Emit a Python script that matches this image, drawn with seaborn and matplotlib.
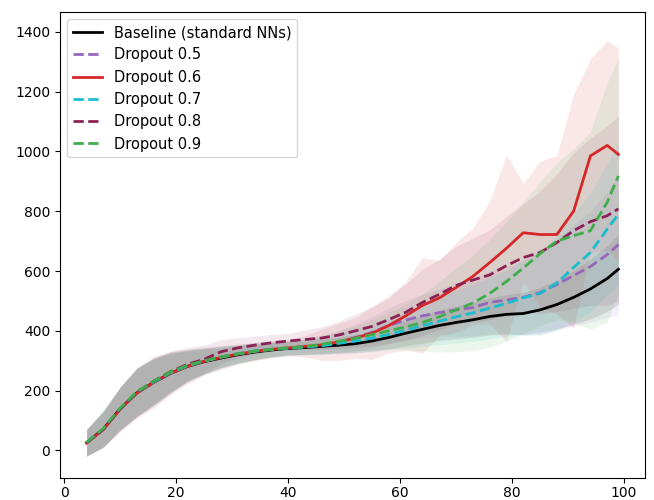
import numpy as np
import pandas as pd

import matplotlib
matplotlib.use('Agg')
import matplotlib.pyplot as plt
import seaborn as sns

# epochs
x = [4, 7, 10, 13, 16, 19, 22, 25, 28, 31, 34, 37, 40, 43, 46, 49, 52,
     55, 58, 61, 64, 67, 70, 73, 76, 79, 82, 85, 88, 91, 94, 97, 99]

# mean curves
baseline = [26, 72, 140, 193, 228, 258, 281, 297, 309, 320, 329, 336, 341, 344, 348, 352, 357,
            366, 378, 392, 405, 418, 428, 437, 448, 455, 458, 470, 488, 512, 540, 575, 606]
drop05 = [25, 71, 140, 195, 230, 262, 284, 300, 313, 324, 333, 339, 343, 347, 352, 362, 378,
          395, 418, 436, 450, 461, 470, 478, 495, 503, 512, 528, 555, 585, 615, 655, 688]
drop06 = [25, 70, 138, 192, 228, 258, 281, 298, 311, 322, 331, 338, 343, 348, 353, 363, 376,
          392, 418, 450, 485, 510, 545, 582, 628, 676, 728, 722, 722, 800, 985, 1020, 990]
drop07 = [26, 72, 140, 194, 229, 260, 283, 299, 312, 323, 332, 338, 342, 346, 350, 358, 366,
          376, 388, 402, 417, 432, 447, 460, 476, 492, 510, 525, 560, 612, 662, 740, 790]
drop08 = [26, 71, 139, 195, 232, 264, 288, 305, 330, 343, 352, 360, 366, 371, 376, 386, 400,
          415, 438, 462, 495, 522, 552, 570, 587, 618, 645, 662, 695, 735, 765, 785, 808]
drop09 = [27, 74, 142, 197, 232, 263, 285, 300, 313, 323, 332, 338, 343, 347, 355, 365, 375,
          387, 400, 413, 428, 447, 470, 493, 525, 565, 610, 658, 700, 718, 735, 830, 918]

# spread (std) around each curve
sd_baseline = [45, 60, 72, 80, 78, 66, 52, 42, 34, 30, 27, 24, 22, 22, 24, 26, 30,
               34, 38, 42, 46, 50, 55, 58, 62, 66, 70, 75, 82, 90, 100, 110, 118]
sd_drop05 = [44, 61, 70, 82, 76, 68, 50, 44, 36, 28, 29, 25, 24, 28, 30, 38, 45,
             52, 60, 65, 72, 80, 88, 95, 105, 112, 125, 140, 150, 170, 185, 210, 235]
sd_drop06 = [46, 58, 74, 84, 86, 72, 58, 46, 40, 33, 30, 28, 27, 36, 52, 62, 68,
             88, 92, 115, 160, 125, 150, 162, 205, 312, 165, 245, 265, 390, 325, 350, 355]
sd_drop07 = [45, 62, 71, 80, 80, 67, 53, 43, 35, 31, 26, 26, 23, 26, 30, 34, 40,
             46, 52, 60, 68, 78, 88, 95, 102, 110, 125, 140, 160, 180, 200, 220, 235]
sd_drop08 = [43, 60, 73, 81, 79, 68, 56, 47, 40, 34, 30, 28, 26, 32, 38, 46, 55,
             66, 80, 95, 110, 118, 130, 140, 150, 165, 180, 205, 230, 260, 280, 300, 310]
sd_drop09 = [44, 61, 71, 80, 77, 66, 53, 42, 35, 31, 28, 25, 23, 26, 32, 36, 42,
             50, 62, 75, 95, 118, 140, 160, 180, 200, 220, 240, 262, 290, 330, 400, 395]

labels = ['Baseline (standard NNs)', 'Dropout 0.5', 'Dropout 0.6',
          'Dropout 0.7', 'Dropout 0.8', 'Dropout 0.9']
means = [baseline, drop05, drop06, drop07, drop08, drop09]
sds = [sd_baseline, sd_drop05, sd_drop06, sd_drop07, sd_drop08, sd_drop09]
colors = ['black', '#9467bd', '#d62728', '#17becf', '#8c2155', '#3fae49']
dashed = [False, True, False, True, True, True]

df = pd.concat([pd.DataFrame({'epoch': x, 'reward': m, 'model': lab})
                for m, lab in zip(means, labels)], ignore_index=True)

fig = plt.figure(figsize=(6.54, 5.0), dpi=100)
ax = fig.add_axes([60/654, 22/500, 585/654, 466/500])

for m, s, c in zip(means, sds, colors):
    m = np.array(m); s = np.array(s)
    ax.fill_between(x, m - s, m + s, color=c, alpha=0.1, linewidth=0)

sns.lineplot(data=df, x='epoch', y='reward', hue='model', style='model',
             hue_order=labels, style_order=labels,
             palette=dict(zip(labels, colors)),
             dashes=dict(zip(labels, [(None, None) if not d else (3.7, 1.6) for d in dashed])),
             linewidth=2, ax=ax)

ax.set_xlim(-0.75, 103.75)
ax.set_ylim(-92, 1466)
ax.set_xticks([0, 20, 40, 60, 80, 100])
ax.set_yticks([0, 200, 400, 600, 800, 1000, 1200, 1400])
ax.tick_params(axis='x', pad=2)
ax.set_xlabel('')
ax.set_ylabel('')
ax.legend(loc='upper left', fontsize=10.5)

plt.savefig('out.png', dpi=100)
